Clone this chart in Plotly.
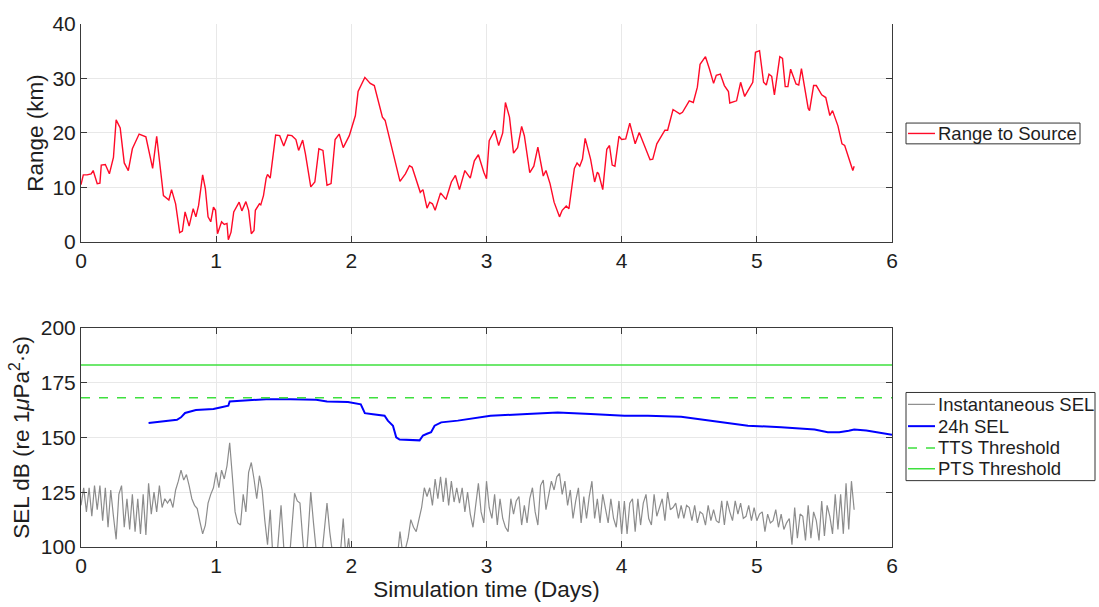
import numpy as np
import plotly.graph_objects as go

# ---- Range to source (km) vs simulation time (days) ----
range_t = [
    0.000, 0.017, 0.045, 0.075, 0.090, 0.120, 0.140, 0.150, 0.180, 0.210,
    0.240, 0.260, 0.290, 0.320, 0.350, 0.380, 0.430, 0.480, 0.530, 0.560,
    0.610, 0.650, 0.670, 0.700, 0.730, 0.750, 0.770, 0.800, 0.830, 0.850,
    0.870, 0.900, 0.920, 0.940, 0.960, 0.980, 0.995, 1.010, 1.040, 1.060,
    1.080, 1.090, 1.110, 1.130, 1.170, 1.190, 1.220, 1.240, 1.260, 1.280,
    1.290, 1.320, 1.330, 1.350, 1.370, 1.380, 1.400, 1.440, 1.470, 1.500,
    1.530, 1.560, 1.590, 1.610, 1.640, 1.660, 1.700, 1.730, 1.760, 1.790,
    1.820, 1.850, 1.880, 1.910, 1.940, 1.985, 2.030, 2.050, 2.100, 2.140,
    2.170, 2.230, 2.250, 2.300, 2.360, 2.400, 2.430, 2.450, 2.510, 2.530,
    2.560, 2.580, 2.600, 2.620, 2.660, 2.700, 2.740, 2.770, 2.800, 2.840,
    2.880, 2.910, 2.940, 2.980, 3.000, 3.020, 3.060, 3.090, 3.120, 3.140,
    3.170, 3.200, 3.230, 3.260, 3.280, 3.320, 3.350, 3.380, 3.420, 3.440,
    3.470, 3.500, 3.540, 3.560, 3.590, 3.610, 3.650, 3.670, 3.690, 3.710,
    3.730, 3.770, 3.790, 3.800, 3.820, 3.830, 3.860, 3.890, 3.910, 3.930,
    3.950, 3.980, 4.000, 4.030, 4.060, 4.100, 4.130, 4.170, 4.210, 4.230,
    4.260, 4.320, 4.340, 4.380, 4.430, 4.450, 4.500, 4.530, 4.560, 4.580,
    4.620, 4.650, 4.680, 4.700, 4.730, 4.760, 4.790, 4.800, 4.850, 4.880,
    4.910, 4.970, 4.990, 5.020, 5.050, 5.070, 5.090, 5.110, 5.130, 5.170,
    5.190, 5.210, 5.230, 5.250, 5.290, 5.310, 5.330, 5.380, 5.390, 5.420,
    5.440, 5.480, 5.510, 5.540, 5.560, 5.600, 5.630, 5.650, 5.710, 5.720,
]
range_km = [
    10.5, 12.3, 12.3, 12.5, 13.1, 10.7, 10.8, 14.1, 14.2, 12.5,
    15.5, 22.4, 20.9, 14.5, 13.1, 17.1, 19.8, 19.3, 13.5, 19.4,
    8.5, 7.7, 9.6, 7.0, 1.7, 2.0, 5.5, 2.9, 6.1, 4.6,
    6.7, 12.3, 9.8, 4.6, 3.7, 6.4, 5.8, 1.5, 3.7, 3.2,
    3.4, 0.4, 1.8, 5.5, 7.3, 5.7, 7.4, 5.8, 1.5, 2.1,
    5.8, 7.0, 6.8, 8.5, 11.7, 12.4, 11.7, 19.6, 19.5, 17.6,
    19.6, 19.5, 18.8, 16.8, 18.7, 16.2, 10.1, 11.0, 17.1, 16.8,
    10.4, 10.7, 18.8, 19.8, 17.3, 19.5, 23.2, 27.6, 30.2, 29.1,
    28.7, 22.9, 22.3, 17.1, 11.1, 12.5, 14.0, 13.7, 9.1, 9.6,
    6.2, 7.3, 7.0, 5.8, 9.0, 7.8, 11.0, 12.2, 9.6, 13.1,
    11.7, 14.9, 16.0, 12.8, 11.6, 18.6, 20.5, 17.7, 20.0, 25.6,
    22.9, 16.3, 17.3, 21.2, 19.5, 12.7, 13.9, 17.4, 12.1, 13.1,
    10.7, 7.3, 4.6, 5.8, 6.6, 6.1, 13.5, 14.5, 13.9, 15.2,
    19.0, 15.2, 11.9, 11.0, 12.8, 12.5, 9.6, 17.0, 17.7, 14.1,
    13.9, 19.4, 18.8, 18.9, 21.8, 18.0, 20.1, 17.7, 15.1, 15.2,
    18.0, 20.5, 20.5, 24.3, 23.5, 23.8, 25.9, 25.6, 28.4, 32.6,
    34.0, 31.7, 29.1, 30.6, 30.8, 28.7, 27.6, 25.5, 25.9, 29.3,
    26.7, 29.3, 34.8, 35.1, 29.3, 28.8, 30.8, 30.4, 27.0, 34.0,
    33.7, 28.5, 28.5, 31.7, 29.0, 28.8, 31.8, 24.5, 24.1, 28.7,
    28.7, 27.0, 26.5, 23.2, 24.1, 21.3, 18.0, 17.7, 13.1, 13.9,
]

# ---- Instantaneous SEL, one sample every 0.02 days ----
inst_dt = 0.02
inst_sel = [
    119, 127, 116, 127, 114, 128, 117, 128, 112, 127,
    109, 126, 114, 103.5, 124, 128, 109, 122, 108, 124,
    107, 122, 106, 124, 105.5, 129, 115, 125, 116, 128,
    118, 122, 120, 122, 118, 126, 130, 135, 130.5, 133,
    128, 122, 119, 117.5, 111.5, 106, 110, 120, 124, 127,
    134, 127, 135, 131, 137, 147.5, 132, 116, 111, 110,
    124, 116, 134, 138.5, 131, 122, 132.5, 126, 112, 101,
    117, 95, 88, 104, 119, 100, 88, 93, 108, 124.5,
    121, 120, 104, 90, 106, 125, 111, 97, 86, 95,
    108, 120, 107, 95, 88, 92, 98, 113, 95, 104,
    92, 90, 84, 88, 80, 86, 82, 89, 83, 87,
    81, 85, 90, 84, 88, 92, 86, 95, 107, 97,
    99, 104, 112.5, 109, 107, 112, 118, 127, 123, 127,
    119, 131, 122, 132, 120.5, 131.5, 119, 130, 120.5, 127,
    120, 127, 116, 125, 115, 109, 118, 129, 116, 111,
    130, 118, 113, 124, 110, 122, 113, 109, 107, 122,
    115, 121, 123, 110, 119, 111, 122, 127, 116, 110,
    128, 130.5, 117, 124, 130, 126, 132, 133.5, 124, 130,
    119, 126, 113, 121, 127, 111, 123, 113, 123, 130,
    113, 122, 111, 124, 118, 111, 122, 113, 109, 121,
    106, 121, 106, 120, 122, 107, 122, 110, 120, 124,
    113, 110, 124, 114, 118, 122, 112, 125, 117, 118,
    120, 113, 119, 113, 119, 118, 112, 119, 111, 116,
    115, 110, 119, 112, 117, 112, 111, 121, 110, 121,
    116, 112, 121, 115, 120, 113, 114, 119, 112, 118,
    112, 115, 116, 107, 115, 111, 112, 117, 109, 115,
    108, 111, 113, 101, 118, 104, 115, 114, 103, 119,
    104, 116, 112, 103, 121, 105, 119, 114, 106, 124,
    108, 124, 106, 129, 108, 130, 117,
]
inst_t = np.arange(len(inst_sel)) * inst_dt

# ---- 24 h cumulative SEL ----
sel24_t = [
    0.50, 0.71, 0.74, 0.77, 0.85, 0.98, 1.03, 1.09, 1.10, 1.22,
    1.37, 1.55, 1.74, 1.82, 1.975, 2.07, 2.09, 2.10, 2.16, 2.246,
    2.27, 2.308, 2.332, 2.357, 2.505, 2.53, 2.56, 2.59, 2.616, 2.665,
    2.788, 3.03, 3.30, 3.527, 3.77, 4.02, 4.194, 4.44, 4.687, 4.934,
    5.18, 5.427, 5.525, 5.61, 5.68, 5.72, 5.81, 6.00,
]
sel24 = [
    156.5, 158.0, 159.1, 161.1, 162.4, 162.9, 163.6, 164.4, 166.3, 166.9,
    167.4, 167.4, 167.1, 166.3, 166.1, 165.0, 162.5, 161.0, 160.5, 159.8,
    157.6, 155.3, 150.0, 149.0, 148.6, 150.8, 151.6, 152.3, 155.3, 156.8,
    157.6, 159.8, 160.6, 161.3, 160.6, 159.8, 159.8, 159.4, 157.3, 155.3,
    154.6, 153.5, 152.3, 152.3, 153.0, 153.5, 153.1, 151.1,
]

# ---- Thresholds (dB re 1 uPa^2 s) ----
tts_threshold = 168
pts_threshold = 183
threshold_t = [0, 6]

# ---- Axis ticks ----
x_ticks = [0, 1, 2, 3, 4, 5, 6]
range_ticks = [0, 10, 20, 30, 40]
sel_ticks = [100, 125, 150, 175, 200]

FONT = "Liberation Sans, Arial, sans-serif"
TEXT_COLOR = "#1e1e1e"
AXIS_COLOR = "#3a3a3a"
GRID_COLOR = "#e8e8e8"
GREEN = "#3ee03e"
RED = "#ff0a28"
BLUE = "#0000ff"
GRAY = "#8c8c8c"

W, H = 1099, 607
M_L, M_R, M_T, M_B = 81, 207, 21, 58
PLOT_W = W - M_L - M_R
PLOT_H = H - M_T - M_B


def px_x(x):
    """Pixel column -> paper x."""
    return (x - M_L) / PLOT_W


def px_y(y):
    """Pixel row -> paper y."""
    return (H - M_B - y) / PLOT_H


fig = go.Figure()

fig.add_trace(go.Scatter(
    x=range_t, y=range_km, mode="lines", name="Range to Source",
    line=dict(color=RED, width=1.4), xaxis="x", yaxis="y",
))
fig.add_trace(go.Scatter(
    x=inst_t, y=inst_sel, mode="lines", name="Instantaneous SEL",
    line=dict(color=GRAY, width=1.2), xaxis="x2", yaxis="y2",
))
fig.add_trace(go.Scatter(
    x=sel24_t, y=sel24, mode="lines", name="24h SEL",
    line=dict(color=BLUE, width=2), xaxis="x2", yaxis="y2",
))
fig.add_trace(go.Scatter(
    x=threshold_t, y=[tts_threshold] * len(threshold_t), mode="lines",
    name="TTS Threshold", line=dict(color=GREEN, width=1.5, dash="dash"),
    xaxis="x2", yaxis="y2",
))
fig.add_trace(go.Scatter(
    x=threshold_t, y=[pts_threshold] * len(threshold_t), mode="lines",
    name="PTS Threshold", line=dict(color=GREEN, width=1.5),
    xaxis="x2", yaxis="y2",
))

# ---- Boxed legends drawn beside each panel ----
shapes = []
annotations = []


def add_legend(box, entries):
    x0, y0, x1, y1 = box
    shapes.append(dict(type="rect", xref="paper", yref="paper",
                       x0=px_x(x0), x1=px_x(x1), y0=px_y(y0), y1=px_y(y1),
                       line=dict(color="#333333", width=1),
                       fillcolor="white", layer="above"))
    for label, yc, color, dash, width in entries:
        shapes.append(dict(type="line", xref="paper", yref="paper",
                           x0=px_x(x0 + 2), x1=px_x(x0 + 29),
                           y0=px_y(yc), y1=px_y(yc),
                           line=dict(color=color, width=width, dash=dash),
                           layer="above"))
        annotations.append(dict(text=label, xref="paper", yref="paper",
                                x=px_x(x0 + 30), y=px_y(yc),
                                xanchor="left", yanchor="middle",
                                showarrow=False,
                                font=dict(family=FONT, size=18.5,
                                          color=TEXT_COLOR)))


add_legend((906, 121, 1080, 142),
           [("Range to Source", 131.5, RED, "solid", 1.4)])
add_legend((906, 393, 1095, 482),
           [("Instantaneous SEL", 405, GRAY, "solid", 1.2),
            ("24h SEL", 427, BLUE, "solid", 2),
            ("TTS Threshold", 449, GREEN, "dash", 1.5),
            ("PTS Threshold", 470, GREEN, "solid", 1.5)])

common_axis = dict(
    showline=True, linecolor=AXIS_COLOR, linewidth=1,
    ticks="inside", ticklen=6, tickcolor=AXIS_COLOR, tickwidth=1,
    showgrid=True, gridcolor=GRID_COLOR, gridwidth=1,
    zeroline=False,
    tickfont=dict(family=FONT, size=21, color=TEXT_COLOR),
)
title_font = dict(family=FONT, size=22.5, color=TEXT_COLOR)

fig.update_layout(
    width=W, height=H,
    margin=dict(l=M_L, r=M_R, t=M_T, b=M_B),
    paper_bgcolor="white", plot_bgcolor="white",
    font=dict(family=FONT, color=TEXT_COLOR),
    showlegend=False,
    xaxis=dict(common_axis, domain=[0, 1], range=[0, 6], tickvals=x_ticks,
               anchor="y", mirror=False),
    yaxis=dict(common_axis, domain=[px_y(241), 1], range=[0, 40],
               tickvals=range_ticks, anchor="x", mirror="ticks",
               title=dict(text="Range (km)", font=title_font, standoff=2)),
    xaxis2=dict(common_axis, domain=[0, 1], range=[0, 6], tickvals=x_ticks,
                anchor="y2", mirror="ticks",
                title=dict(text="Simulation time (Days)", font=title_font,
                           standoff=2)),
    yaxis2=dict(common_axis, domain=[0, px_y(327.5)], range=[100, 200],
                tickvals=sel_ticks, anchor="x2", mirror="ticks",
                title=dict(text="SEL dB (re 1<i>μ</i>Pa<sup>2</sup>·s)",
                           font=title_font, standoff=4)),
    shapes=shapes,
    annotations=annotations,
)

fig.write_html("out.html")
